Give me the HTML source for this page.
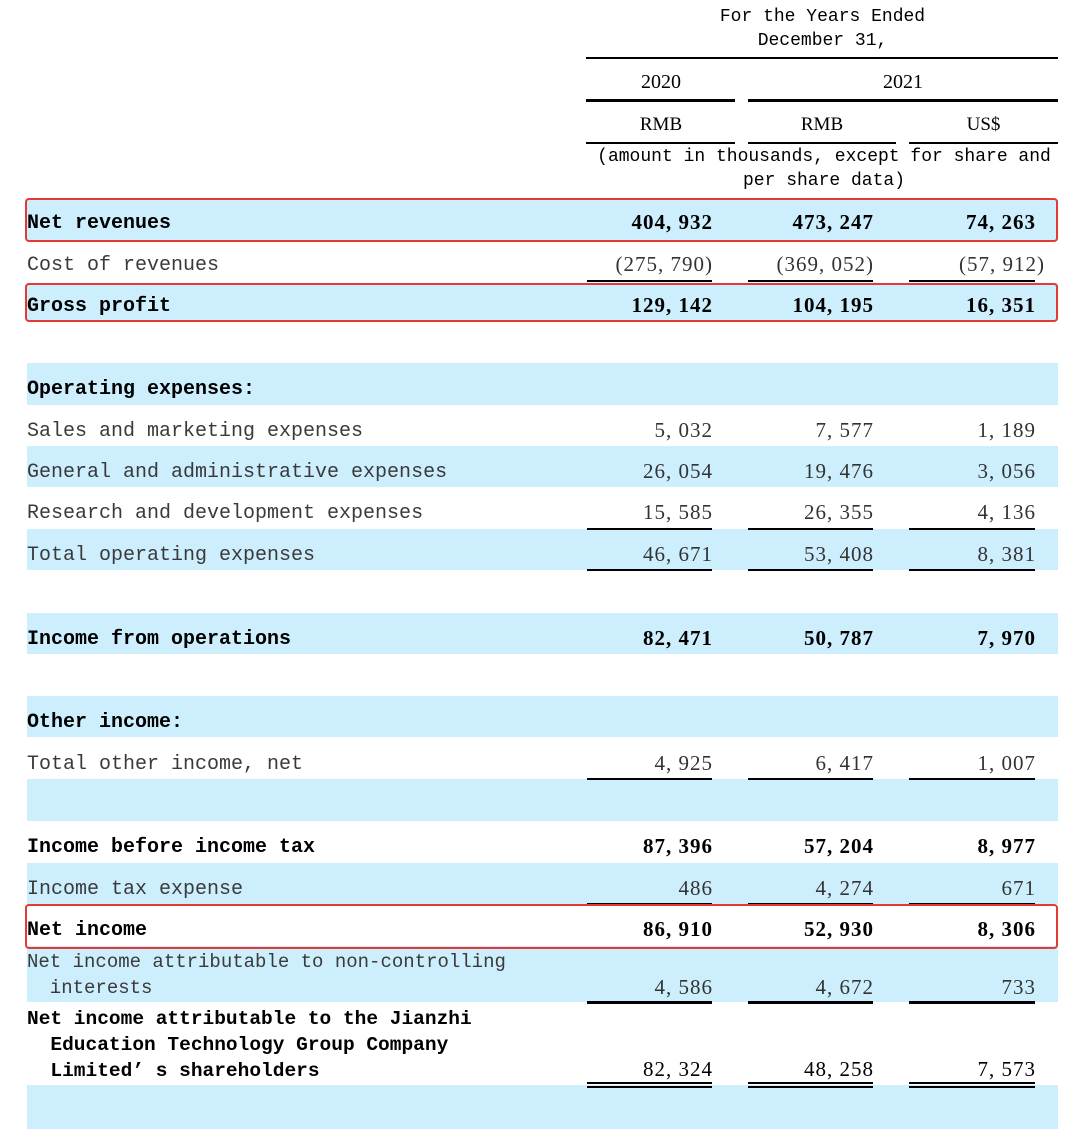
<!DOCTYPE html>
<html><head><meta charset="utf-8"><style>
body{margin:0;width:1080px;height:1129px;background:#fff;position:relative;overflow:hidden}
div{position:absolute}
.b{background:#cdeefd;left:27px;width:1031px}
.l{left:27px;font-family:"Liberation Mono","Noto Sans CJK SC",monospace;font-size:20px;color:#3a3a3a;white-space:pre;margin-top:3px}
.lb{color:#000;font-weight:bold}
.n{font-family:"Liberation Serif","Noto Serif CJK SC",serif;font-size:21px;color:#333;text-align:right;width:160px;white-space:pre;letter-spacing:1px;margin-top:1px}
.nb{color:#000;font-weight:bold}
.c1{left:553px}.c2{left:714px}.c3{left:876px}
.u{height:2px;background:#000}
.u1{left:587px;width:125px}.u2{left:748px;width:125px}.u3{left:909px;width:126px}
.r{border:2px solid #e53935;border-radius:4px;left:25px;width:1029px}
.h{font-family:"Liberation Mono",monospace;font-size:18px;color:#000;white-space:pre;text-align:center}
.hs{font-family:"Liberation Serif",serif;font-size:20px;color:#000;text-align:center}
</style></head><body>
<!-- header -->
<div class="h" style="left:587px;width:471px;top:5px;line-height:24px">For the Years Ended
December 31,</div>
<div class="u" style="left:586px;width:472px;top:57px"></div>
<div class="hs" style="left:587px;width:148px;top:71px">2020</div>
<div class="hs" style="left:748px;width:310px;top:71px">2021</div>
<div class="u" style="left:586px;width:149px;top:99px;height:3px"></div>
<div class="u" style="left:748px;width:310px;top:99px;height:3px"></div>
<div class="hs" style="left:587px;width:148px;top:114px;font-size:19px">RMB</div>
<div class="hs" style="left:748px;width:148px;top:114px;font-size:19px">RMB</div>
<div class="hs" style="left:909px;width:149px;top:114px;font-size:19px">US$</div>
<div class="u" style="left:586px;width:149px;top:142px"></div>
<div class="u" style="left:748px;width:148px;top:142px"></div>
<div class="u" style="left:909px;width:149px;top:142px"></div>
<div class="h" style="left:590px;width:468px;top:145px;line-height:24px">(amount in thousands, except for share and
per share data)</div>

<!-- bands -->
<div class="b" style="top:200px;height:41px"></div>
<div class="b" style="top:283px;height:38px"></div>
<div class="b" style="top:363px;height:42px"></div>
<div class="b" style="top:446px;height:41px"></div>
<div class="b" style="top:529px;height:41px"></div>
<div class="b" style="top:613px;height:41px"></div>
<div class="b" style="top:696px;height:41px"></div>
<div class="b" style="top:779px;height:42px"></div>
<div class="b" style="top:863px;height:41px"></div>
<div class="b" style="top:946px;height:56px"></div>
<div class="b" style="top:1085px;height:44px"></div>

<!-- rows -->
<div class="l lb" style="top:209px">Net revenues</div>
<div class="n nb c1" style="top:209px">404, 932</div><div class="n nb c2" style="top:209px">473, 247</div><div class="n nb c3" style="top:209px">74, 263</div>

<div class="l" style="top:251px">Cost of revenues</div>
<div class="n c1" style="top:251px">(275, 790)</div><div class="n c2" style="top:251px">(369, 052)</div><div class="n c3" style="top:251px;left:885px">(57, 912)</div>
<div class="u u1" style="top:280px"></div><div class="u u2" style="top:280px"></div><div class="u u3" style="top:280px"></div>

<div class="l lb" style="top:292px">Gross profit</div>
<div class="n nb c1" style="top:292px">129, 142</div><div class="n nb c2" style="top:292px">104, 195</div><div class="n nb c3" style="top:292px">16, 351</div>

<div class="l lb" style="top:375px">Operating expenses:</div>

<div class="l" style="top:417px">Sales and marketing expenses</div>
<div class="n c1" style="top:417px">5, 032</div><div class="n c2" style="top:417px">7, 577</div><div class="n c3" style="top:417px">1, 189</div>

<div class="l" style="top:458px">General and administrative expenses</div>
<div class="n c1" style="top:458px">26, 054</div><div class="n c2" style="top:458px">19, 476</div><div class="n c3" style="top:458px">3, 056</div>

<div class="l" style="top:499px">Research and development expenses</div>
<div class="n c1" style="top:499px">15, 585</div><div class="n c2" style="top:499px">26, 355</div><div class="n c3" style="top:499px">4, 136</div>
<div class="u u1" style="top:528px"></div><div class="u u2" style="top:528px"></div><div class="u u3" style="top:528px"></div>

<div class="l" style="top:541px">Total operating expenses</div>
<div class="n c1" style="top:541px">46, 671</div><div class="n c2" style="top:541px">53, 408</div><div class="n c3" style="top:541px">8, 381</div>
<div class="u u1" style="top:569px"></div><div class="u u2" style="top:569px"></div><div class="u u3" style="top:569px"></div>

<div class="l lb" style="top:625px">Income from operations</div>
<div class="n nb c1" style="top:625px">82, 471</div><div class="n nb c2" style="top:625px">50, 787</div><div class="n nb c3" style="top:625px">7, 970</div>

<div class="l lb" style="top:708px">Other income:</div>

<div class="l" style="top:750px">Total other income, net</div>
<div class="n c1" style="top:750px">4, 925</div><div class="n c2" style="top:750px">6, 417</div><div class="n c3" style="top:750px">1, 007</div>
<div class="u u1" style="top:778px"></div><div class="u u2" style="top:778px"></div><div class="u u3" style="top:778px"></div>

<div class="l lb" style="top:833px">Income before income tax</div>
<div class="n nb c1" style="top:833px">87, 396</div><div class="n nb c2" style="top:833px">57, 204</div><div class="n nb c3" style="top:833px">8, 977</div>

<div class="l" style="top:875px">Income tax expense</div>
<div class="n c1" style="top:875px">486</div><div class="n c2" style="top:875px">4, 274</div><div class="n c3" style="top:875px">671</div>
<div class="u u1" style="top:903px"></div><div class="u u2" style="top:903px"></div><div class="u u3" style="top:903px"></div>

<div class="l lb" style="top:916px">Net income</div>
<div class="n nb c1" style="top:916px">86, 910</div><div class="n nb c2" style="top:916px">52, 930</div><div class="n nb c3" style="top:916px">8, 306</div>

<div class="l" style="top:946px;line-height:26px;font-size:19px">Net income attributable to non-controlling
  interests</div>
<div class="n c1" style="top:974px">4, 586</div><div class="n c2" style="top:974px">4, 672</div><div class="n c3" style="top:974px">733</div>
<div class="u u1" style="top:1001px;height:3px"></div><div class="u u2" style="top:1001px;height:3px"></div><div class="u u3" style="top:1001px;height:3px"></div>

<div class="l lb" style="top:1003px;line-height:26px;font-size:19.5px">Net income attributable to the Jianzhi
  Education Technology Group Company
  Limited’ s shareholders</div>
<div class="n c1" style="top:1056px;color:#000">82, 324</div><div class="n c2" style="top:1056px;color:#000">48, 258</div><div class="n c3" style="top:1056px;color:#000">7, 573</div>
<div class="u u1" style="top:1082px"></div><div class="u u2" style="top:1082px"></div><div class="u u3" style="top:1082px"></div>
<div class="u u1" style="top:1086px"></div><div class="u u2" style="top:1086px"></div><div class="u u3" style="top:1086px"></div>

<!-- red boxes -->
<div class="r" style="top:198px;height:40px"></div>
<div class="r" style="top:283px;height:35px"></div>
<div class="r" style="top:904px;height:41px"></div>
</body></html>
